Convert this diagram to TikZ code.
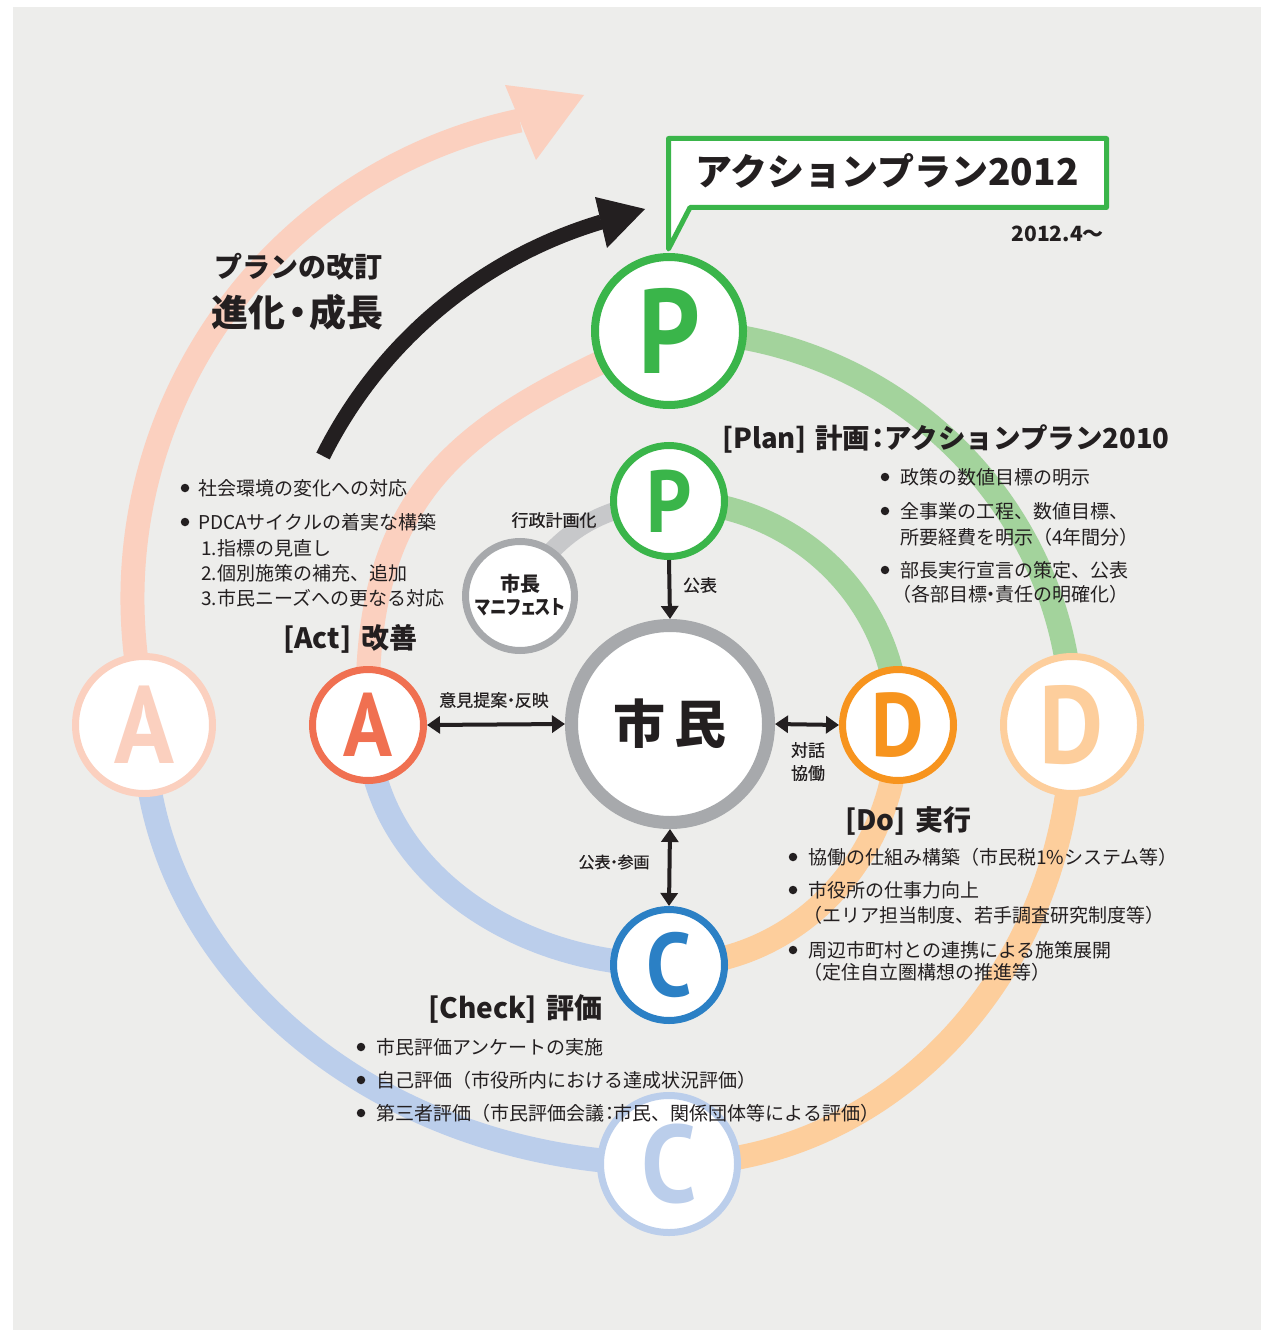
\documentclass[tikz,border=0pt]{standalone}
\usepackage{fontspec}
\usepackage{graphicx}
\usetikzlibrary{arrows.meta}
\setmainfont{Noto Sans CJK JP}
\newfontfamily\pfont[RawFeature=+palt]{Noto Sans CJK JP}
\newfontfamily\medfont[FakeBold=0.5]{Noto Sans CJK JP}
\newfontfamily\latfont{PT Sans}
\definecolor{bgc}{HTML}{EDEDEB}
\definecolor{ink}{HTML}{231F20}
\definecolor{gS}{HTML}{3AB54A}
\definecolor{gL}{HTML}{A3D39C}
\definecolor{pkL}{HTML}{FBD0BF}
\definecolor{rdS}{HTML}{F07051}
\definecolor{orS}{HTML}{F7941E}
\definecolor{orL}{HTML}{FDCE9C}
\definecolor{blS}{HTML}{2B80C5}
\definecolor{blL}{HTML}{BBCEEB}
\definecolor{grR}{HTML}{A7A9AC}
\definecolor{grB}{HTML}{C7C8CA}
\newcommand\bigL[2]{{\latfont\bfseries\fontsize{#1}{#1}\selectfont\scalebox{0.9}[1]{#2}}}
\newcommand\fs[1]{\fontsize{#1}{#1}\selectfont}
\newcommand\nd{\kern-0.28em・\kern-0.28em}
\newcommand\ndw{\kern-0.18em・\kern-0.18em}
\pgfdeclarelayer{paper}
\pgfdeclarelayer{bands}
\pgfsetlayers{paper,bands,main}
\begin{document}
\begin{tikzpicture}[x=1pt,y=-1pt,
  band/.style={line width=24pt},
  ring/.style={circle, fill=white, inner sep=0pt},
  ringO/.style={ring, line width=7pt, minimum size=137pt},
  ringI/.style={ring, line width=7pt, minimum size=111pt},
  txt/.style={anchor=base west, inner sep=0pt, text=ink},
  ctxt/.style={anchor=base, inner sep=0pt, text=ink},
  bul/.style={circle, fill=ink, inner sep=0pt, minimum size=8.5pt},
  sarr/.style={draw=ink, line width=4pt, -{Triangle[length=13pt,width=17pt]}},
  darr/.style={draw=ink, line width=4pt, {Triangle[length=13pt,width=17pt]}-{Triangle[length=13pt,width=17pt]}}]
\useasboundingbox (0,0) rectangle (1263,1332);
\begin{pgfonlayer}{paper}
\fill[white] (0,0) rectangle (1263,1332);
\fill[bgc] (13,7) rectangle (1261,1330);
\end{pgfonlayer}

% ---------- nodes ----------
\node[ring, draw=gS, line width=8pt, minimum size=148pt, text=gS] (Pout) at (669,331) {\bigL{120}{P}};
\node[ringI, draw=gS, text=gS] (Pin) at (669,501) {\bigL{88}{P}};
\node[ring, draw=grR, line width=7pt, minimum size=109pt] (Mayor) at (520,596) {};
\node[ring, draw=grR, line width=13pt, minimum size=197pt] (Shimin) at (670,724) {};
\node[ringI, draw=rdS, text=rdS] (Ain) at (368,725) {\bigL{90}{A}};
\node[ringI, draw=orS, text=orS] (Din) at (898,725) {\bigL{90}{D}};
\node[ringI, draw=blS, text=blS] (Cin) at (669,965) {\bigL{90}{C}};
\node[ringO, draw=pkL, text=pkL] (Aout) at (144,725) {\bigL{110}{A}};
\node[ringO, draw=orL, text=orL] (Dout) at (1072,725) {\bigL{110}{D}};
\node[ringO, draw=blL, text=blL] (Cout) at (669,1164) {\bigL{110}{C}};

% ---------- bands (behind nodes) ----------
\begin{pgfonlayer}{bands}
\draw[band, gL] (Pin.center) arc[start angle=-90, end angle=0, x radius=229, y radius=224];
\draw[band, orL] (Din.center) arc[start angle=0, end angle=90, x radius=229, y radius=240];
\draw[band, blL] (Cin.center) arc[start angle=90, end angle=180, x radius=301, y radius=240];
\draw[band, pkL] (Ain.center) .. controls (360,480) and (470,420) .. (Pout.center);
\draw[band, gL] (Pout.center) arc[start angle=-90, end angle=0, x radius=403, y radius=394];
\draw[band, orL] (Dout.center) arc[start angle=0, end angle=90, x radius=403, y radius=439];
\draw[band, blL] (Cout.center) arc[start angle=90, end angle=180, x radius=525, y radius=439];
\coordinate (pkS) at (138,672);
\draw[band, pkL] (Aout.center) -- (pkS) arc[start angle=171.4, end angle=258, radius=489] coordinate (pkE);
\fill[pkL] (505,85) -- (584,95) -- (536,160) -- cycle;
\coordinate (bkS) at (323,456);
\draw[line width=15pt, ink] (bkS) arc[start angle=206.5, end angle=253.4, radius=457] coordinate (bkE);
\fill[ink] (595,197) -- (645,209) -- (607,248) -- cycle;
\draw[line width=18pt, grB] (Mayor.center) .. controls (555,530) and (605,505) .. (Pin.center);
\end{pgfonlayer}

% ---------- speech bubble ----------
\draw[gS, line width=5pt, fill=white, line join=round] (668.5,138.5) -- (1106.5,138.5) -- (1106.5,207.5) -- (690,207.5) -- (668.5,249) -- cycle;
\node[ctxt] (bubT) at (887,186) {\bfseries\fs{37}アクションプラン2012};
\node[anchor=base east, inner sep=0pt, text=ink] (bubD) at (1104,241) {\bfseries\fs{21}2012.4〜};

% ---------- small arrows ----------
\draw[sarr] (Pin.south) -- (Shimin.north);
\draw[darr] (Ain.east) -- (Shimin.west);
\draw[darr] (Shimin.east) -- (Din.west);
\draw[darr] (Shimin.south) -- (Cin.north);

% ---------- labels ----------
\node[ctxt] (lShimin) at (670,743) {\bfseries\fs{52}市\hspace{0.18em}民};
\node[ctxt] (lMay1) at (520,591.6) {\bfseries\fs{20}市長};
\node[ctxt] (lMay2) at (520,614.6) {\scalebox{0.82}[1]{\bfseries\pfont\fs{20}マニフェスト}};
\node[ctxt] (lGyo) at (554,526.5) {\medfont\fs{17}行政計画化};
\node[ctxt] (lKoh) at (700,591.5) {\medfont\fs{17}公表};
\node[ctxt] (lIken) at (494,706.5) {\medfont\fs{17}意見提案\nd 反映};
\node[ctxt] (lTai) at (808,756.5) {\medfont\fs{17}対話};
\node[ctxt] (lKyo) at (808,779.5) {\medfont\fs{17}協働};
\node[ctxt] (lSan) at (614,868) {\medfont\fs{16}公表\nd 参画};

\node[ctxt] (hRev) at (298,277.5) {\bfseries\fs{28}プランの改訂};
\node[ctxt] (hEvo) at (297.5,326.5) {\bfseries\fs{37}進化\ndw 成長};

% Act block
\node[bul] (b1) at (185,488) {};
\node[txt] (a1) at (198,495) {\fs{19}社会環境の変化への対応};
\node[bul] (b2) at (185,522) {};
\node[txt] (a2) at (198,529) {\fs{19}PDCAサイクルの着実な構築};
\node[txt] (a3) at (201,555) {\fs{19}1.指標の見直し};
\node[txt] (a4) at (201,580) {\fs{19}2.個別施策の補充、追加};
\node[txt] (a5) at (201,605) {\fs{19}3.市民ニーズへの更なる対応};
\node[txt] (hAct) at (283,648.6) {\bfseries\fs{28}[Act]\hspace{0.35em}改善};

% Plan block
\node[txt] (hPlan) at (722,448) {\bfseries\fs{27.5}[Plan]\hspace{0.3em}計画\kern-0.22em：\kern-0.25emアクションプラン2010};
\node[bul] (b3) at (885,477) {};
\node[txt] (p1) at (900,484) {\fs{19}政策の数値目標の明示};
\node[bul] (b4) at (885,511) {};
\node[txt] (p2) at (900,518) {\fs{19}全事業の工程、数値目標、};
\node[txt] (p3) at (900,544) {\fs{19}所要経費を明示（4年間分）};
\node[bul] (b5) at (885,570) {};
\node[txt] (p4) at (900,577) {\fs{19}部長実行宣言の策定、公表};
\node[txt] (p5) at (892,601) {\fs{19}（各部目標\nd 責任の明確化）};

% Do block
\node[txt] (hDo) at (845,830.6) {\bfseries\fs{28}[Do]\hspace{0.35em}実行};
\node[bul] (b6) at (793,857) {};
\node[txt] (d1) at (808,864) {\fs{19}協働の仕組み構築（市民税1\%システム等）};
\node[bul] (b7) at (793,890) {};
\node[txt] (d2) at (808,897) {\fs{19}市役所の仕事力向上};
\node[txt] (d3) at (803,922) {\fs{19}（エリア担当制度、若手調査研究制度等）};
\node[bul] (b8) at (793,950) {};
\node[txt] (d4) at (808,957) {\fs{19}周辺市町村との連携による施策展開};
\node[txt] (d5) at (803,979) {\fs{19}（定住自立圏構想の推進等）};

% Check block
\node[txt] (hCheck) at (428,1018.6) {\bfseries\fs{28}[Check]\hspace{0.35em}評価};
\node[bul] (b9) at (361,1047) {};
\node[txt] (c1) at (376,1054) {\fs{19}市民評価アンケートの実施};
\node[bul] (b10) at (361,1080) {};
\node[txt] (c2) at (376,1087) {\fs{19}自己評価（市役所内における達成状況評価）};
\node[bul] (b11) at (361,1113) {};
\node[txt] (c3) at (376,1120) {\fs{19}第三者評価（市民評価会議\kern-0.2em：\kern-0.3em 市民、関係団体等による評価）};
\end{tikzpicture}
\end{document}
